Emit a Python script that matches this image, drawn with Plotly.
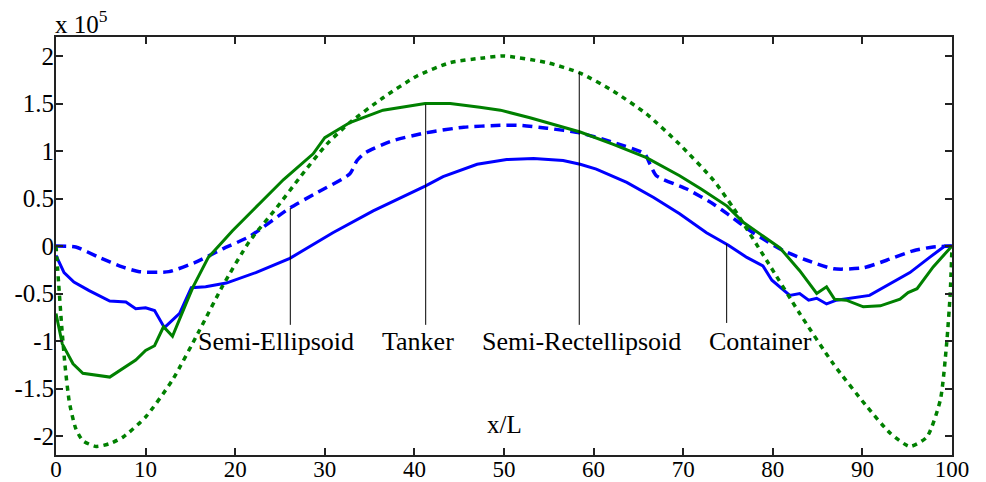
import plotly.graph_objects as go

# ---- data (y in units of 1e5) ----
blue_solid_x = [0, 0.9, 2, 3.7, 6, 7.8, 8.9, 10, 11, 12.1, 13.8, 15.1, 16.7, 19, 22.3, 26.1, 30.9, 35.4,
                41.2, 43.2, 47, 50.3, 53.3, 56.6, 58.5, 60.3, 63.7, 66.7, 69.6, 72.6, 75, 77.1, 78.9, 79.9,
                81.9, 83, 84, 84.9, 86, 87.1, 90.8, 92.7, 95.3, 97.5, 99.2, 100]
blue_solid_y = [-0.10, -0.28, -0.38, -0.47, -0.58, -0.59, -0.66, -0.65, -0.68, -0.86, -0.71, -0.44, -0.43,
                -0.39, -0.28, -0.13, 0.14, 0.37, 0.63, 0.73, 0.86, 0.91, 0.92, 0.90, 0.86, 0.81, 0.67, 0.51,
                0.34, 0.14, 0.01, -0.12, -0.21, -0.36, -0.52, -0.50, -0.57, -0.55, -0.61, -0.57, -0.52,
                -0.42, -0.28, -0.12, 0.0, 0.0]

blue_dash_x = [0, 2.2, 4.8, 7.4, 9.3, 12.6, 15.6, 18.6, 21.6, 26.1, 29.1, 32.8, 33.6, 34.5, 37.3, 41.2,
               45.5, 49.6, 51.8, 54.8, 58.5, 62.2, 65.7, 66.3, 67, 70.4, 73.4, 74.9, 77.8, 81.2, 83.8,
               86.8, 90.1, 92.7, 95.7, 97.9, 100]
blue_dash_y = [0, -0.01, -0.12, -0.22, -0.27, -0.27, -0.17, -0.03, 0.10, 0.40, 0.56, 0.76, 0.90, 0.98,
               1.10, 1.19, 1.25, 1.27, 1.27, 1.24, 1.19, 1.09, 0.97, 0.86, 0.74, 0.60, 0.44, 0.34, 0.14,
               -0.05, -0.15, -0.24, -0.23, -0.15, -0.05, -0.01, 0]

green_solid_x = [0, 0.7, 1.9, 3, 6, 8.9, 10, 11, 12, 13, 14.5, 15.3, 17, 19.7, 21.7, 25.4, 28.7, 30,
                 32.8, 36.5, 41.2, 44, 47.3, 49.6, 52.9, 58.5, 62.2, 65.9, 69.6, 72, 74.9, 76.7, 80.8,
                 83, 84.9, 86, 86.9, 88.2, 90.1, 92, 94.2, 95.1, 96.1, 97.9, 100]
green_solid_y = [-0.71, -1.03, -1.24, -1.34, -1.38, -1.20, -1.10, -1.05, -0.85, -0.95, -0.61, -0.43,
                 -0.12, 0.16, 0.35, 0.70, 0.97, 1.14, 1.30, 1.43, 1.50, 1.50, 1.46, 1.43, 1.35, 1.20,
                 1.07, 0.93, 0.74, 0.60, 0.42, 0.25, -0.02, -0.26, -0.50, -0.43, -0.56, -0.57, -0.64,
                 -0.63, -0.56, -0.49, -0.45, -0.22, 0]

green_dot_x = [0, 0.3, 0.6, 1.0, 1.5, 2.2, 3, 4.5, 6, 7.5, 10, 13, 16, 18.6, 21.6, 24.6, 27.2, 30.2,
               32.8, 36.5, 40.3, 44, 47.7, 50, 54.8, 58.5, 62.2, 65.9, 69.6, 73.4, 75.6, 79.3, 83,
               86.75, 90.5, 93.1, 95.3, 97.2, 98.7, 99.4, 99.8, 100]
green_dot_y = [0, -0.40, -0.80, -1.25, -1.65, -1.92, -2.05, -2.11, -2.08, -2.01, -1.80, -1.41, -0.89,
               -0.42, 0.05, 0.40, 0.72, 1.07, 1.30, 1.56, 1.79, 1.93, 1.98, 2.0, 1.93, 1.82, 1.63,
               1.39, 1.07, 0.69, 0.40, -0.15, -0.71, -1.24, -1.69, -1.97, -2.11, -2.01, -1.62, -1.03,
               -0.50, 0]

labels = ["Semi-Ellipsoid", "Tanker", "Semi-Rectellipsoid", "Container"]
label_x = [24.5, 40.4, 58.7, 78.6]
label_y = [-1.0, -1.0, -1.0, -1.0]
pointer_x = [26.15, 41.26, 58.4, 74.85]
pointer_top = [0.40, 1.49, 1.83, 0.02]
pointer_bottom = [-0.83, -0.83, -0.83, -0.81]

x_ticks = [0, 10, 20, 30, 40, 50, 60, 70, 80, 90, 100]
y_ticks = [-2, -1.5, -1, -0.5, 0, 0.5, 1, 1.5, 2]
y_ticktext = ["-2", "-1.5", "-1", "-0.5", "0", "0.5", "1", "1.5", "2"]

BLUE = "#0000FF"
GREEN = "#008000"
FONT = "Liberation Serif"

fig = go.Figure()
fig.add_trace(go.Scatter(x=blue_solid_x, y=blue_solid_y, mode="lines",
                         line=dict(color=BLUE, width=3)))
fig.add_trace(go.Scatter(x=blue_dash_x, y=blue_dash_y, mode="lines",
                         line=dict(color=BLUE, width=3.5, dash="10px,6px", shape="spline", smoothing=0.6)))
fig.add_trace(go.Scatter(x=green_solid_x, y=green_solid_y, mode="lines",
                         line=dict(color=GREEN, width=3)))
fig.add_trace(go.Scatter(x=green_dot_x, y=green_dot_y, mode="lines",
                         line=dict(color=GREEN, width=3.5, dash="5px,5px", shape="spline", smoothing=0.6)))

for px_, t, b in zip(pointer_x, pointer_top, pointer_bottom):
    fig.add_shape(type="line", x0=px_, x1=px_, y0=b, y1=t, xref="x", yref="y",
                  line=dict(color="black", width=1))

for txt, lx, ly in zip(labels, label_x, label_y):
    fig.add_annotation(x=lx, y=ly, text=txt, showarrow=False, xref="x", yref="y",
                       font=dict(family=FONT, size=26, color="black"))

fig.add_annotation(x=50, y=-1.875, text="x/L", showarrow=False, xref="x", yref="y",
                   font=dict(family=FONT, size=25, color="black"))
fig.add_annotation(x=0, y=1, xref="paper", yref="paper", xanchor="left", yanchor="bottom",
                   text="x 10<sup>5</sup>", showarrow=False, yshift=-3, xshift=-3,
                   font=dict(family=FONT, size=25, color="black"))

axis_common = dict(showgrid=False, zeroline=False, showline=True, linecolor="#222222", linewidth=2,
                   mirror="allticks", ticks="inside", ticklen=7, tickwidth=1.5, tickcolor="#222222",
                   automargin=False)
fig.update_xaxes(range=[0, 100], tickvals=x_ticks, ticklabelstandoff=-8,
                 tickfont=dict(family=FONT, size=23, color="black"), **axis_common)
fig.update_yaxes(range=[-2.2, 2.2], tickvals=y_ticks, ticktext=y_ticktext, ticklabelstandoff=-5,
                 tickfont=dict(family=FONT, size=25, color="black"), **axis_common)

fig.update_layout(width=986, height=482, autosize=False, showlegend=False,
                  margin=dict(l=56, r=34, t=37, b=27, autoexpand=False),
                  paper_bgcolor="white", plot_bgcolor="white")

fig.write_html("out.html")
